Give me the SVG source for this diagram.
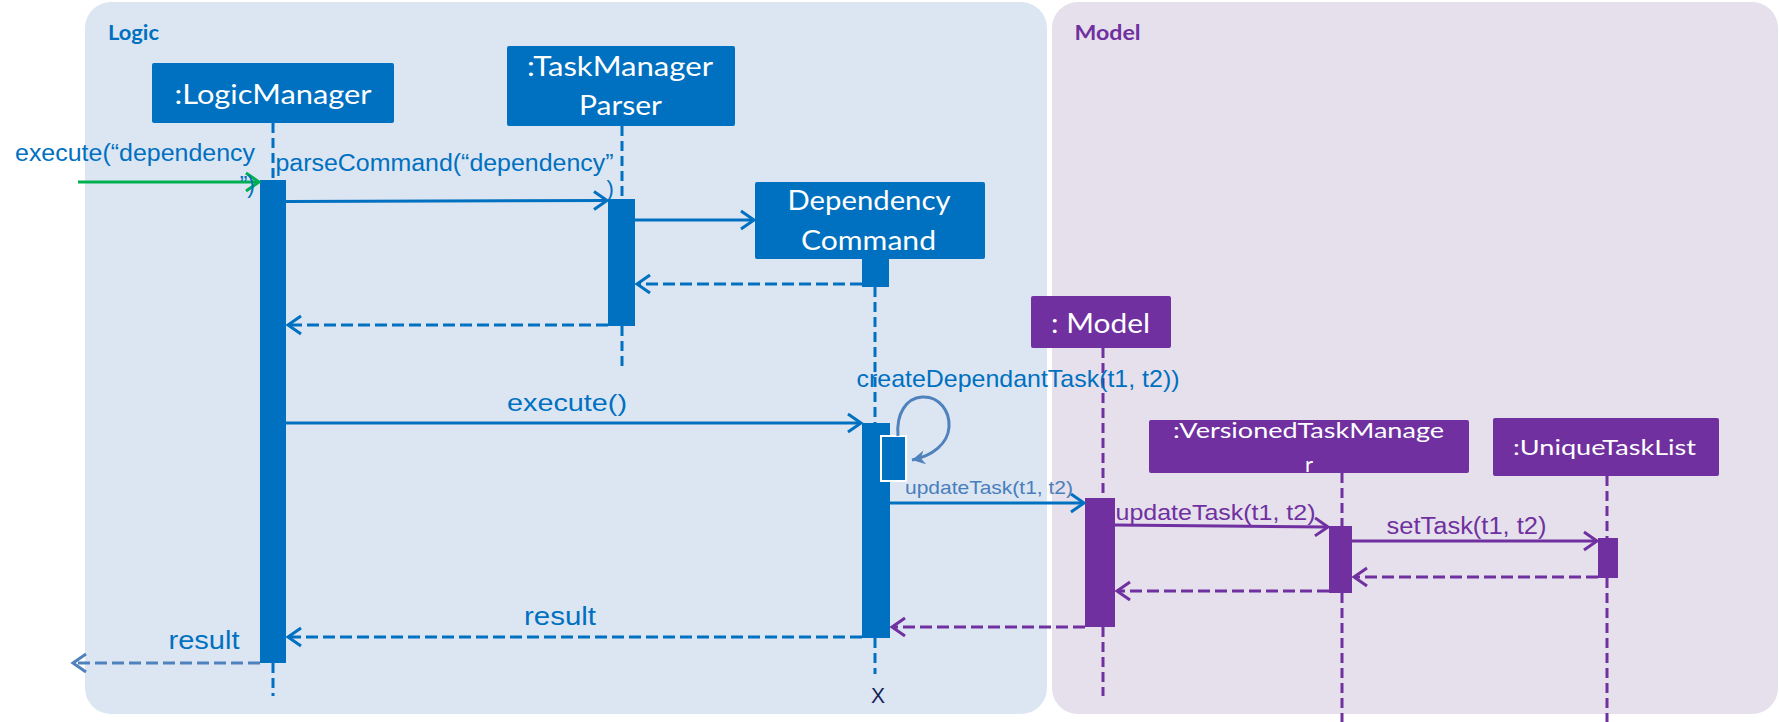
<svg xmlns="http://www.w3.org/2000/svg" width="1779" height="722" viewBox="0 0 1779 722">
  <defs>
    <style>
      .panel-logic { fill: #dce6f2; }
      .panel-model { fill: #e5e0ec; }
      .panel-title { font-family: Lato, "Open Sans", sans-serif; font-weight: 700; font-size: 21px; }
      .box-blue { fill: #0070c0; }
      .box-purple { fill: #7030a0; }
      .node-label { font-family: Lato, "Open Sans", sans-serif; fill: #ffffff; }
      .life { fill: none; stroke-width: 3; stroke-dasharray: 10 5; }
      .life-blue { stroke: #0070c0; }
      .life-purple { stroke: #7030a0; }
      .msg { fill: none; stroke-width: 3; }
      .ret { stroke-dasharray: 12 5; }
      .msg-label { font-family: "Liberation Sans", Arial, sans-serif; }
      .blue { stroke: #0070c0; }
      .purple { stroke: #7030a0; }
      .green { stroke: #00b050; }
      .steel { stroke: #4f81bd; }
      .t-blue { fill: #0070c0; }
      .t-purple { fill: #7030a0; }
      .t-steel { fill: #4a7ebb; }
    </style>
    <marker id="ah-blue" markerUnits="userSpaceOnUse" orient="auto" refX="0" refY="0" markerWidth="30" markerHeight="30" overflow="visible">
      <path d="M-13,-9 L0,0 L-13,9" fill="none" stroke="#0070c0" stroke-width="3"/>
    </marker>
    <marker id="ah-purple" markerUnits="userSpaceOnUse" orient="auto" refX="0" refY="0" markerWidth="30" markerHeight="30" overflow="visible">
      <path d="M-13,-9 L0,0 L-13,9" fill="none" stroke="#7030a0" stroke-width="3"/>
    </marker>
    <marker id="ah-green" markerUnits="userSpaceOnUse" orient="auto" refX="0" refY="0" markerWidth="30" markerHeight="30" overflow="visible">
      <path d="M-13,-9 L0,0 L-13,9" fill="none" stroke="#00b050" stroke-width="3"/>
    </marker>
    <marker id="ah-steel" markerUnits="userSpaceOnUse" orient="auto" refX="0" refY="0" markerWidth="30" markerHeight="30" overflow="visible">
      <path d="M-13,-9 L0,0 L-13,9" fill="none" stroke="#4f81bd" stroke-width="3"/>
    </marker>
    <marker id="ah-self" markerUnits="userSpaceOnUse" orient="auto" refX="0" refY="0" markerWidth="30" markerHeight="30" overflow="visible">
      <path d="M-13,-7 L0,0 L-13,7 L-9,0 Z" fill="#4f81bd"/>
    </marker>
  </defs>

  <!-- component frames -->
  <g id="frame-logic">
    <rect class="panel-logic" x="85" y="2" width="962" height="712" rx="26" ry="26"/>
    <text class="panel-title t-blue" x="108" y="40" textLength="51" lengthAdjust="spacingAndGlyphs">Logic</text>
  </g>
  <g id="frame-model">
    <rect class="panel-model" x="1052" y="2" width="726" height="712" rx="26" ry="26"/>
    <text class="panel-title t-purple" x="1074.5" y="40" textLength="66" lengthAdjust="spacingAndGlyphs">Model</text>
  </g>

  <!-- participants -->
  <g id="logic-manager">
    <rect class="box-blue" x="152" y="63" width="242" height="60" rx="2"/>
    <text class="node-label" x="273" y="104" font-size="26" text-anchor="middle" textLength="197" lengthAdjust="spacingAndGlyphs">:LogicManager</text>
    <line class="life life-blue" x1="273" y1="123" x2="273" y2="180"/>
    <line class="life life-blue" x1="273" y1="663" x2="273" y2="696"/>
    <rect class="box-blue" x="260" y="180" width="26" height="483"/>
  </g>

  <g id="task-manager-parser">
    <rect class="box-blue" x="507" y="46" width="228" height="80" rx="2"/>
    <text class="node-label" x="620" y="76" font-size="26" text-anchor="middle" textLength="186" lengthAdjust="spacingAndGlyphs">:TaskManager</text>
    <text class="node-label" x="620.5" y="115" font-size="26" text-anchor="middle" textLength="83" lengthAdjust="spacingAndGlyphs">Parser</text>
    <line class="life life-blue" x1="622" y1="126" x2="622" y2="199"/>
    <line class="life life-blue" x1="622" y1="326" x2="622" y2="369"/>
    <rect class="box-blue" x="608" y="199" width="27" height="127"/>
  </g>

  <g id="dependency-command">
    <rect class="box-blue" x="755" y="182" width="230" height="77" rx="2"/>
    <text class="node-label" x="869" y="210" font-size="27" text-anchor="middle" textLength="163" lengthAdjust="spacingAndGlyphs">Dependency</text>
    <text class="node-label" x="868.5" y="250" font-size="27" text-anchor="middle" textLength="135" lengthAdjust="spacingAndGlyphs">Command</text>
    <rect class="box-blue" x="862" y="258" width="27" height="29"/>
    <line class="life life-blue" x1="875" y1="287" x2="875" y2="423"/>
    <line class="life life-blue" x1="875" y1="638" x2="875" y2="674"/>
    <rect class="box-blue" x="862" y="423" width="28" height="215"/>
    <rect class="box-blue" x="881" y="436" width="25" height="45" stroke="#ffffff" stroke-width="2"/>
    <text x="878" y="703" font-family="Liberation Sans, Arial, sans-serif" font-size="22" fill="#14235a" text-anchor="middle" textLength="14" lengthAdjust="spacingAndGlyphs">X</text>
  </g>

  <g id="model">
    <rect class="box-purple" x="1031" y="296" width="140" height="52" rx="2"/>
    <text class="node-label" x="1051" y="333" font-size="27" textLength="99" lengthAdjust="spacingAndGlyphs">: Model</text>
    <line class="life life-purple" x1="1103" y1="348" x2="1103" y2="498"/>
    <line class="life life-purple" x1="1103" y1="627" x2="1103" y2="696"/>
    <rect class="box-purple" x="1085" y="498" width="30" height="129"/>
  </g>

  <g id="versioned-task-manager">
    <rect class="box-purple" x="1149" y="420" width="320" height="53" rx="2"/>
    <text class="node-label" x="1173" y="438" font-size="22" textLength="271" lengthAdjust="spacingAndGlyphs">:VersionedTaskManage</text>
    <text class="node-label" x="1305" y="472" font-size="22">r</text>
    <line class="life life-purple" x1="1342" y1="473" x2="1342" y2="526"/>
    <line class="life life-purple" x1="1342" y1="593" x2="1342" y2="722"/>
    <rect class="box-purple" x="1329" y="526" width="23" height="67"/>
  </g>

  <g id="unique-task-list">
    <rect class="box-purple" x="1493" y="418" width="226" height="58" rx="2"/>
    <text class="node-label" x="1513" y="455" font-size="22" textLength="183" lengthAdjust="spacingAndGlyphs">:UniqueTaskList</text>
    <line class="life life-purple" x1="1607" y1="476" x2="1607" y2="538"/>
    <line class="life life-purple" x1="1607" y1="578" x2="1607" y2="722"/>
    <rect class="box-purple" x="1598" y="538" width="20" height="40"/>
  </g>

  <!-- messages -->
  <g id="connectors">
    <!-- incoming call -->
    <line class="msg green" x1="78" y1="182" x2="259" y2="182" marker-end="url(#ah-green)"/>
    <text class="msg-label t-blue" x="255" y="161" font-size="23.5" text-anchor="end" textLength="240" lengthAdjust="spacingAndGlyphs">execute(“dependency</text>
    <text class="msg-label t-blue" x="255" y="193" font-size="23" text-anchor="end">”)</text>

    <!-- parseCommand -->
    <line class="msg blue" x1="286" y1="201.5" x2="607" y2="200.5" marker-end="url(#ah-blue)"/>
    <text class="msg-label t-blue" x="275.5" y="171" font-size="23.5" textLength="338" lengthAdjust="spacingAndGlyphs">parseCommand(“dependency”</text>
    <text class="msg-label t-blue" x="606.5" y="196" font-size="22">)</text>

    <!-- create DependencyCommand -->
    <line class="msg blue" x1="635" y1="220" x2="754" y2="220" marker-end="url(#ah-blue)"/>
    <line class="msg blue ret" x1="862" y1="284" x2="637" y2="284" marker-end="url(#ah-blue)"/>
    <line class="msg blue ret" x1="608" y1="325" x2="288" y2="325" marker-end="url(#ah-blue)"/>

    <!-- execute() -->
    <line class="msg blue" x1="286" y1="423" x2="861" y2="423" marker-end="url(#ah-blue)"/>
    <text class="msg-label t-blue" x="507" y="411" font-size="24.5" textLength="120" lengthAdjust="spacingAndGlyphs">execute()</text>

    <!-- self call -->
    <path class="msg steel" stroke-width="2" d="M898,436 C896,414 906,398 922,397 C940,396 950,412 949,427 C948,444 932,456 912,460" marker-end="url(#ah-self)"/>
    <text class="msg-label t-blue" x="856.5" y="387" font-size="24" textLength="323" lengthAdjust="spacingAndGlyphs">createDependantTask(t1, t2))</text>

    <!-- updateTask to Model -->
    <line class="msg blue" x1="890" y1="503" x2="1084" y2="503" marker-end="url(#ah-blue)"/>
    <text class="msg-label t-steel" x="905" y="494" font-size="18.5" textLength="168" lengthAdjust="spacingAndGlyphs">updateTask(t1, t2)</text>

    <!-- updateTask to VersionedTaskManager -->
    <line class="msg purple" x1="1115" y1="525" x2="1328" y2="527" marker-end="url(#ah-purple)"/>
    <text class="msg-label t-purple" x="1115.5" y="520" font-size="22" textLength="200" lengthAdjust="spacingAndGlyphs">updateTask(t1, t2)</text>

    <!-- setTask -->
    <line class="msg purple" x1="1352" y1="541" x2="1597" y2="541" marker-end="url(#ah-purple)"/>
    <text class="msg-label t-purple" x="1386.5" y="533.5" font-size="23" textLength="160" lengthAdjust="spacingAndGlyphs">setTask(t1, t2)</text>

    <!-- returns in Model -->
    <line class="msg purple ret" x1="1598" y1="577" x2="1354" y2="577" marker-end="url(#ah-purple)"/>
    <line class="msg purple ret" x1="1329" y1="591" x2="1117" y2="591" marker-end="url(#ah-purple)"/>
    <line class="msg purple ret" x1="1085" y1="627" x2="892" y2="627" marker-end="url(#ah-purple)"/>

    <!-- result back to LogicManager -->
    <line class="msg blue ret" x1="862" y1="637" x2="288" y2="637" marker-end="url(#ah-blue)"/>
    <text class="msg-label t-blue" x="524" y="625" font-size="26.5" textLength="72" lengthAdjust="spacingAndGlyphs">result</text>

    <!-- outgoing result -->
    <line class="msg steel ret" x1="260" y1="663" x2="73" y2="663" marker-end="url(#ah-steel)"/>
    <text class="msg-label t-blue" x="168.5" y="649" font-size="26.5" textLength="71" lengthAdjust="spacingAndGlyphs">result</text>
  </g>
</svg>
